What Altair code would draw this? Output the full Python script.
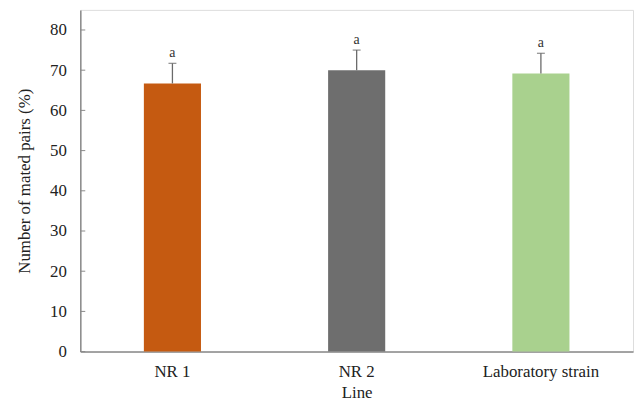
import altair as alt
import pandas as pd

lines = ["NR 1", "NR 2", "Laboratory strain"]
means = [66.7, 70.0, 69.2]
errors = [5.0, 5.0, 5.0]
letters = ["a", "a", "a"]
colors = ["#C55A11", "#6E6E6E", "#A9D18E"]
y_ticks = [0, 10, 20, 30, 40, 50, 60, 70, 80]

df = pd.DataFrame({"Line": lines, "mean": means, "err": errors, "letter": letters})
df["upper"] = df["mean"] + df["err"]
ticks_df = pd.DataFrame({"v": y_ticks})

FONT = "Liberation Serif"

x_enc = alt.X("Line:N", sort=lines,
              scale=alt.Scale(paddingInner=0.69, paddingOuter=0.345),
              axis=alt.Axis(title="Line", ticks=False, labelAngle=0, labelFont=FONT,
                            labelFontSize=17, labelColor="#222", titleFont=FONT,
                            titleFontSize=17, titleColor="#222", titleFontWeight="normal",
                            labelPadding=12, titlePadding=5, domainColor="#8a8a8a",
                            domainWidth=1.5))
y_scale = alt.Scale(domain=[0, 85], nice=False)
y_enc = alt.Y("mean:Q", scale=y_scale,
              axis=alt.Axis(title="Number of mated pairs (%)", values=y_ticks, ticks=False,
                            grid=False, labelFont=FONT, labelFontSize=17, labelColor="#222",
                            titleFont=FONT, titleFontSize=17, titleColor="#222",
                            titleFontWeight="normal", labelPadding=14, titlePadding=16,
                            domainColor="#8a8a8a", domainWidth=1.5))

bars = alt.Chart(df).mark_bar().encode(
    x=x_enc,
    y=y_enc,
    color=alt.Color("Line:N", scale=alt.Scale(domain=lines, range=colors), legend=None),
)

err_rule = alt.Chart(df).mark_rule(color="#6a6a6a", strokeWidth=1.3).encode(
    x=alt.X("Line:N", sort=lines),
    y=alt.Y("mean:Q", scale=y_scale),
    y2="upper:Q",
)

caps = alt.Chart(df).mark_tick(color="#6a6a6a", size=8, thickness=1.3).encode(
    x=alt.X("Line:N", sort=lines),
    y=alt.Y("upper:Q", scale=y_scale),
)

labels = alt.Chart(df).mark_text(font=FONT, fontSize=14, color="#333", dy=-10,
                                 baseline="middle").encode(
    x=alt.X("Line:N", sort=lines),
    y=alt.Y("upper:Q", scale=y_scale),
    text="letter:N",
)

inner_ticks = alt.Chart(ticks_df).mark_rule(color="#8a8a8a", strokeWidth=1).encode(
    y=alt.Y("v:Q", scale=y_scale),
    x=alt.value(0),
    x2=alt.value(5),
)

chart = alt.layer(bars, err_rule, caps, labels, inner_ticks).properties(
    width=558, height=345,
    autosize=alt.AutoSizeParams(type="none"),
    padding={"left": 73, "top": 0, "right": 2, "bottom": 52},
).configure_view(stroke="#a0a0a0", strokeWidth=1.2).configure(background="white")

chart.save("out.html", embed_options={"renderer": "svg", "actions": False})
